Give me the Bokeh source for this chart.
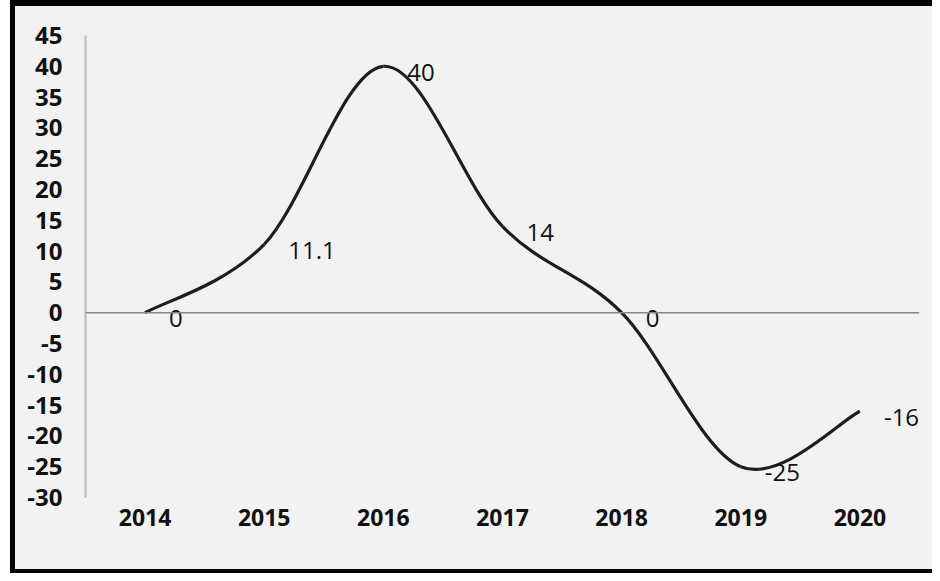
from bokeh.plotting import figure
from bokeh.models import Range1d, FixedTicker, Span, ColumnDataSource, InlineStyleSheet
from bokeh.core.properties import value
from bokeh.embed import file_html
from bokeh.resources import INLINE

# ---- data ----
years = ["2014", "2015", "2016", "2017", "2018", "2019", "2020"]
values = [0, 11.1, 40, 14, 0, -25, -16]
labels = ["0", "11.1", "40", "14", "0", "-25", "-16"]
y_ticks = [-30, -25, -20, -15, -10, -5, 0, 5, 10, 15, 20, 25, 30, 35, 40, 45]
y_tick_labels = ["-30", "-25", "-20", "-15", "-10", "-5", "0", "5", "10", "15",
                 "20", "25", "30", "35", "40", "45"]

W, H = 932, 573
FONT = "Open Sans"

frame_css = InlineStyleSheet(css="""
:host { position: relative; }
:host::before {
  content: ""; position: absolute; left: 0px; top: 0px; width: 10px; height: 573px;
  background: #ffffff; pointer-events: none; z-index: 10;
}
:host::after {
  content: ""; position: absolute; left: 10px; top: 0px;
  width: 922px; height: 573px; box-sizing: border-box;
  border-left: 5px solid #000000; border-top: 6px solid #000000;
  border-bottom: 4px solid #000000; border-right: 0px none;
  pointer-events: none; z-index: 10;
}
""")

p = figure(width=W, height=H, output_backend="svg", toolbar_location=None,
           x_range=Range1d(0, len(years)), y_range=Range1d(-30, 45),
           min_border_left=85, min_border_right=13, min_border_top=35, min_border_bottom=76,
           stylesheets=[frame_css])
p.background_fill_color = "#f2f2f2"
p.border_fill_color = "#f2f2f2"
p.outline_line_color = None
p.xgrid.visible = False
p.ygrid.visible = False

# x positions: categories centred between ticks
xs = [i + 0.5 for i in range(len(years))]

# x axis (labels only, at the bottom)
p.xaxis.ticker = FixedTicker(ticks=xs)
p.xaxis.major_label_overrides = {x: y for x, y in zip(xs, years)}
p.xaxis.axis_line_color = None
p.xaxis.major_tick_line_color = None
p.xaxis.minor_tick_line_color = None
p.xaxis.major_label_standoff = 5
p.xaxis.major_label_text_font = FONT
p.xaxis.major_label_text_font_style = "bold"
p.xaxis.major_label_text_font_size = "23px"
p.xaxis.major_label_text_color = "#111111"

# y axis
p.yaxis.ticker = FixedTicker(ticks=y_ticks)
p.yaxis.major_label_overrides = {t: s for t, s in zip(y_ticks, y_tick_labels)}
p.yaxis.axis_line_color = "#b8b8b8"
p.yaxis.axis_line_width = 2
p.yaxis.major_tick_line_color = None
p.yaxis.minor_tick_line_color = None
p.yaxis.major_label_standoff = 17
p.yaxis.major_label_text_font = FONT
p.yaxis.major_label_text_font_style = "bold"
p.yaxis.major_label_text_font_size = "24px"
p.yaxis.major_label_text_color = "#111111"

# zero line (category axis crossing)
p.add_layout(Span(location=0, dimension="width", line_color="#868686", line_width=1.5))

# smoothed line: cubic Bezier segments (Catmull-Rom style, like Excel smoothing)
n = len(values)
px = xs
py = values
x0, y0, x1, y1, cx0, cy0, cx1, cy1 = [], [], [], [], [], [], [], []
for i in range(n - 1):
    pm = i - 1 if i > 0 else i
    pp = i + 2 if i + 2 < n else i + 1
    x0.append(px[i]); y0.append(py[i])
    x1.append(px[i + 1]); y1.append(py[i + 1])
    cx0.append(px[i] + (px[i + 1] - px[pm]) / 6.0)
    cy0.append(py[i] + (py[i + 1] - py[pm]) / 6.0)
    cx1.append(px[i + 1] - (px[pp] - px[i]) / 6.0)
    cy1.append(py[i + 1] - (py[pp] - py[i]) / 6.0)
p.bezier(x0=x0, y0=y0, x1=x1, y1=y1, cx0=cx0, cy0=cy0, cx1=cx1, cy1=cy1,
         line_color="#1e1e1a", line_width=3.2)

# data labels
src = ColumnDataSource(dict(x=xs, y=values, t=labels))
p.text(x="x", y="y", text="t", source=src, x_offset=24, y_offset=6,
       text_align="left", text_baseline="middle",
       text_font=value(FONT), text_font_size="24px", text_color="#111111")

open("out.html", "w").write(file_html(p, INLINE))
